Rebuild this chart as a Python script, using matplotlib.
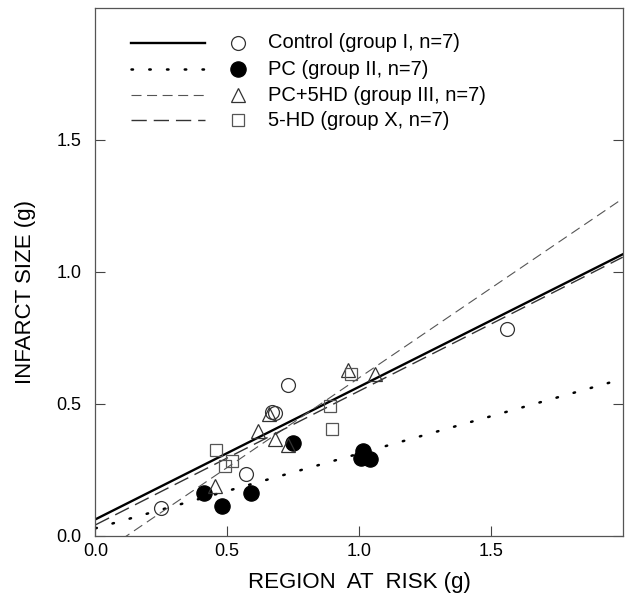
import numpy as np
import matplotlib.pyplot as plt

plt.rcParams['font.family'] = ['Liberation Sans', 'DejaVu Sans']

# data (region at risk vs infarct size, g)
control_x = [0.25, 0.57, 0.67, 0.68, 0.73, 1.56]
control_y = [0.105, 0.235, 0.471, 0.467, 0.572, 0.783]

pc_x = [0.41, 0.48, 0.59, 0.75, 1.016, 1.006, 1.04]
pc_y = [0.164, 0.114, 0.162, 0.354, 0.322, 0.294, 0.292]

pc5hd_x = [0.452, 0.618, 0.657, 0.681, 0.729, 0.958, 1.059]
pc5hd_y = [0.189, 0.399, 0.462, 0.366, 0.343, 0.629, 0.614]

hd_x = [0.458, 0.49, 0.517, 0.889, 0.899, 0.968]
hd_y = [0.326, 0.264, 0.285, 0.493, 0.405, 0.614]

# regression lines (intercept, slope)
intercepts = [0.063, 0.029, -0.080, 0.042]
slopes = [0.502, 0.283, 0.679, 0.507]

labels = ['Control (group I, n=7)', 'PC (group II, n=7)',
          'PC+5HD (group III, n=7)', '5-HD (group X, n=7)']
ticks = [0.0, 0.5, 1.0, 1.5]

fig = plt.figure(figsize=(6.31, 5.99), dpi=100)
ax = fig.add_axes([0.1512, 0.1052, 0.8357, 0.8815])

line_styles = [
    dict(color='black', lw=1.7, ls='-'),
    dict(color='black', lw=1.8, ls=(0, (0.6, 6.5)), dash_capstyle='round'),
    dict(color='#555555', lw=0.8, ls=(0, (9, 5))),
    dict(color='#333333', lw=1.0, ls=(0, (11, 5))),
]
marker_styles = [
    dict(marker='o', ms=10, mfc='none', mec='#333333', mew=0.9),
    dict(marker='o', ms=11, mfc='black', mec='black', mew=0.9),
    dict(marker='^', ms=10, mfc='none', mec='#333333', mew=0.9),
    dict(marker='s', ms=9, mfc='none', mec='#555555', mew=0.9),
]

xs = np.linspace(0, 2.0, 50)
for b, m, st in zip(intercepts, slopes, line_styles):
    ax.plot(xs, b + m * xs, zorder=2, **st)

groups = [(control_x, control_y), (pc_x, pc_y), (pc5hd_x, pc5hd_y), (hd_x, hd_y)]
for (gx, gy), ms in zip(groups, marker_styles):
    ax.plot(gx, gy, ls='none', zorder=3, **ms)

# legend drawn by hand: line sample, marker, text
row_y = [0.934, 0.884, 0.835, 0.787]
for yy, st, ms, lab in zip(row_y, line_styles, marker_styles, labels):
    ax.plot([0.068, 0.208], [yy, yy], transform=ax.transAxes, **st)
    ax.plot([0.270], [yy], transform=ax.transAxes, ls='none', **ms)
    ax.text(0.327, yy, lab, transform=ax.transAxes, fontsize=14.5,
            va='center', ha='left')

ax.set_xlim(0, 2.0)
ax.set_ylim(0, 2.0)
ax.set_xticks(ticks)
ax.set_yticks(ticks)
ax.set_xticklabels(['%.1f' % t for t in ticks])
ax.set_yticklabels(['%.1f' % t for t in ticks])
ax.tick_params(direction='in', length=7, width=0.8, labelsize=13,
               right=True, color='#444444')
ax.tick_params(axis='y', pad=10)
ax.tick_params(axis='x', pad=5)
for s in ax.spines.values():
    s.set_color('#555555')
    s.set_linewidth(0.9)

ax.set_xlabel('REGION  AT  RISK (g)', fontsize=16, labelpad=9)
ax.set_ylabel('INFARCT SIZE (g)', fontsize=16)
ax.yaxis.set_label_coords(-0.112, 0.462)

fig.savefig('out.png', dpi=100)
